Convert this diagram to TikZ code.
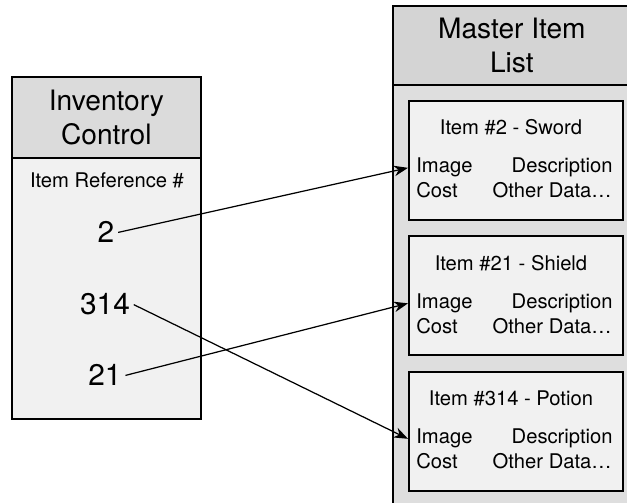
\documentclass[tikz,border=0pt]{standalone}
\usepackage{fontspec}
\setmainfont{TeX Gyre Heros}
\usetikzlibrary{arrows.meta}
\definecolor{headgray}{gray}{0.86}
\definecolor{mastergray}{gray}{0.83}
\definecolor{outergray}{gray}{0.87}
\definecolor{palegray}{gray}{0.945}
\begin{document}
\begin{tikzpicture}[x=0.02cm,y=-0.02cm,
		box/.style={draw,line width=1pt,anchor=north west,inner sep=0pt},
		headtxt/.style={align=center,font=\fontsize{16}{19}\selectfont},
		small/.style={inner sep=0pt,font=\fontsize{11.5}{13}\selectfont},
		num/.style={anchor=base,inner sep=2pt,font=\fontsize{17}{19}\selectfont},
		link/.style={line width=0.7pt,-{Stealth[length=8pt,width=6pt]}}]
		\useasboundingbox (0,0) rectangle (627,503);
		% inventory control
		\node[box,fill=palegray,minimum width=3.78cm,minimum height=5.22cm] (invbody) at (11,157) {};
		\node[box,fill=headgray,minimum width=3.78cm,minimum height=1.62cm,headtxt] (invhead) at (11,76) {Inventory\\Control};
		\node[small,anchor=base] (refhead) at (107,188) {Item Reference \#};
		\node[num] (n2) at (106,243) {2};
		\node[num] (n314) at (105,315) {314};
		\node[num] (n21) at (105,386) {21};
		% master item list
		\node[box,fill=outergray,minimum width=4.76cm,minimum height=8.6cm] (mbody) at (392,84) {};
		\node[box,fill=mastergray,minimum width=4.76cm,minimum height=1.58cm,headtxt] (mhead) at (392,5) {Master Item\\List};
		\foreach \t/\nm/\lbl in {100/item1/{Item \#2 - Sword},235.5/item2/{Item \#21 - Shield},371/item3/{Item \#314 - Potion}}{
			\node[box,fill=palegray,minimum width=4.28cm,minimum height=2.38cm] (\nm) at (408,\t) {};
			\node[small,anchor=base] (\nm t) at (511,\t+35) {\lbl};
			\node[small,anchor=base west] (\nm img) at (416,\t+73) {Image};
			\node[small,anchor=base east] (\nm d) at (613,\t+73) {Description};
			\node[small,anchor=base west] (\nm c) at (416,\t+98) {Cost};
			\node[small,anchor=base east] (\nm o) at (612,\t+98) {Other Data…};
		}
		\draw[link] (n2.east) -- (item1img.west -| item1.west);
		\draw[link] (n21.east) -- (item2img.west -| item2.west);
		\draw[link] (n314.east) -- (item3img.west -| item3.west);
	\end{tikzpicture}
\end{document}
